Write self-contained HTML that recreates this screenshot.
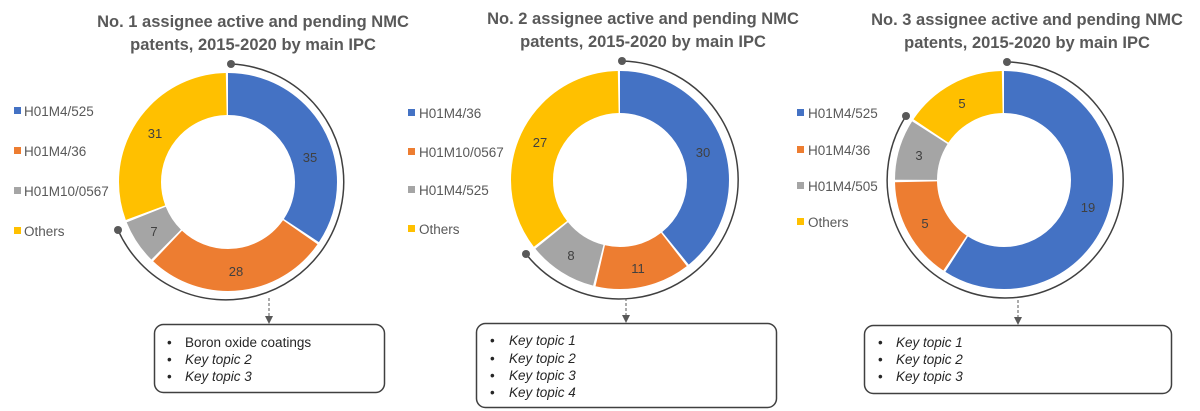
<!DOCTYPE html>
<html><head><meta charset="utf-8"><style>
html,body{margin:0;padding:0;background:#fff;}
svg{display:block;font-family:"Liberation Sans",sans-serif;}
.t{font-weight:bold;font-size:16.5px;fill:#595959;text-anchor:middle;}
.lg{font-size:13.5px;fill:#595959;}
.v{font-size:13px;fill:#404040;text-anchor:middle;}
.b{font-size:13.5px;fill:#262626;}
.i{font-style:italic;}
</style></head><body>
<svg width="1200" height="411" viewBox="0 0 1200 411">
<defs><marker id="ah" markerWidth="8" markerHeight="8" refX="4" refY="4" orient="auto"><path d="M0,0 L8,4 L0,8 z" fill="#595959"/></marker></defs>

<!-- Chart 1 -->
<text class="t" x="253" y="27">No. 1 assignee active and pending NMC</text>
<text class="t" x="253" y="50">patents, 2015-2020 by main IPC</text>
<g transform="rotate(-90 228 182)" fill="none" stroke-width="42">
<circle cx="228" cy="182" r="88" stroke="#4472C4" stroke-dasharray="189.6 600" stroke-dashoffset="0"/>
<circle cx="228" cy="182" r="88" stroke="#ED7D31" stroke-dasharray="151.3 600" stroke-dashoffset="-191.6"/>
<circle cx="228" cy="182" r="88" stroke="#A5A5A5" stroke-dasharray="36.3 600" stroke-dashoffset="-344.9"/>
<circle cx="228" cy="182" r="88" stroke="#FFC000" stroke-dasharray="167.7 600" stroke-dashoffset="-383.2"/>
</g>
<text class="v" x="310" y="162">35</text><text class="v" x="236" y="276">28</text><text class="v" x="154" y="236">7</text><text class="v" x="155" y="138">31</text>
<path d="M231,64 A118,118 0 1 1 118,230" fill="none" stroke="#404040" stroke-width="1.5"/>
<circle cx="231" cy="64" r="4" fill="#595959"/><circle cx="118" cy="230" r="4" fill="#595959"/>
<line x1="269" y1="298" x2="269" y2="320" stroke="#595959" stroke-dasharray="3 2" marker-end="url(#ah)"/>
<rect x="14" y="107" width="7" height="7" fill="#4472C4"/><text class="lg" x="24" y="116">H01M4/525</text>
<rect x="14" y="147" width="7" height="7" fill="#ED7D31"/><text class="lg" x="24" y="156">H01M4/36</text>
<rect x="14" y="187" width="7" height="7" fill="#A5A5A5"/><text class="lg" x="24" y="196">H01M10/0567</text>
<rect x="14" y="227" width="7" height="7" fill="#FFC000"/><text class="lg" x="24" y="236">Others</text>
<rect x="154.5" y="324.5" width="230" height="68" rx="9" fill="#fff" stroke="#404040" stroke-width="1.5"/>
<text class="b" x="167" y="347">•</text><text class="b" x="185" y="347">Boron oxide coatings</text>
<text class="b" x="167" y="364">•</text><text class="b i" x="185" y="364">Key topic 2</text>
<text class="b" x="167" y="381">•</text><text class="b i" x="185" y="381">Key topic 3</text>

<!-- Chart 2 -->
<text class="t" x="643" y="24">No. 2 assignee active and pending NMC</text>
<text class="t" x="643" y="47">patents, 2015-2020 by main IPC</text>
<g transform="rotate(-90 620 180)" fill="none" stroke-width="42">
<circle cx="620" cy="180" r="88" stroke="#4472C4" stroke-dasharray="216.3 600" stroke-dashoffset="0"/>
<circle cx="620" cy="180" r="88" stroke="#ED7D31" stroke-dasharray="78.0 600" stroke-dashoffset="-218.3"/>
<circle cx="620" cy="180" r="88" stroke="#A5A5A5" stroke-dasharray="56.2 600" stroke-dashoffset="-298.3"/>
<circle cx="620" cy="180" r="88" stroke="#FFC000" stroke-dasharray="194.4 600" stroke-dashoffset="-356.5"/>
</g>
<text class="v" x="703" y="157">30</text><text class="v" x="638" y="273">11</text><text class="v" x="571" y="260">8</text><text class="v" x="540" y="147">27</text>
<path d="M622,61 A119,119 0 1 1 526,254" fill="none" stroke="#404040" stroke-width="1.5"/>
<circle cx="622" cy="61" r="4" fill="#595959"/><circle cx="526" cy="254" r="4" fill="#595959"/>
<line x1="626" y1="298" x2="626" y2="319" stroke="#595959" stroke-dasharray="3 2" marker-end="url(#ah)"/>
<rect x="408" y="109" width="7" height="7" fill="#4472C4"/><text class="lg" x="419" y="118">H01M4/36</text>
<rect x="408" y="148" width="7" height="7" fill="#ED7D31"/><text class="lg" x="419" y="157">H01M10/0567</text>
<rect x="408" y="186" width="7" height="7" fill="#A5A5A5"/><text class="lg" x="419" y="195">H01M4/525</text>
<rect x="408" y="225" width="7" height="7" fill="#FFC000"/><text class="lg" x="419" y="234">Others</text>
<rect x="476.5" y="323.5" width="300" height="84" rx="9" fill="#fff" stroke="#404040" stroke-width="1.5"/>
<text class="b" x="490" y="345">•</text><text class="b i" x="509" y="345">Key topic 1</text>
<text class="b" x="490" y="363">•</text><text class="b i" x="509" y="363">Key topic 2</text>
<text class="b" x="490" y="380">•</text><text class="b i" x="509" y="380">Key topic 3</text>
<text class="b" x="490" y="397">•</text><text class="b i" x="509" y="397">Key topic 4</text>

<!-- Chart 3 -->
<text class="t" x="1027" y="25">No. 3 assignee active and pending NMC</text>
<text class="t" x="1027" y="48">patents, 2015-2020 by main IPC</text>
<g transform="rotate(-90 1004 180)" fill="none" stroke-width="42">
<circle cx="1004" cy="180" r="88" stroke="#4472C4" stroke-dasharray="326.3 600" stroke-dashoffset="0"/>
<circle cx="1004" cy="180" r="88" stroke="#ED7D31" stroke-dasharray="84.4 600" stroke-dashoffset="-328.3"/>
<circle cx="1004" cy="180" r="88" stroke="#A5A5A5" stroke-dasharray="49.8 600" stroke-dashoffset="-414.7"/>
<circle cx="1004" cy="180" r="88" stroke="#FFC000" stroke-dasharray="84.4 600" stroke-dashoffset="-466.5"/>
</g>
<text class="v" x="962" y="108">5</text><text class="v" x="919" y="160">3</text><text class="v" x="925" y="228">5</text><text class="v" x="1088" y="212">19</text>
<path d="M1007,62 A118,118 0 1 1 906,116" fill="none" stroke="#404040" stroke-width="1.5"/>
<circle cx="1007" cy="62" r="4" fill="#595959"/><circle cx="906" cy="116" r="4" fill="#595959"/>
<line x1="1018" y1="300" x2="1018" y2="321" stroke="#595959" stroke-dasharray="3 2" marker-end="url(#ah)"/>
<rect x="797" y="109" width="7" height="7" fill="#4472C4"/><text class="lg" x="808" y="118">H01M4/525</text>
<rect x="797" y="146" width="7" height="7" fill="#ED7D31"/><text class="lg" x="808" y="155">H01M4/36</text>
<rect x="797" y="182" width="7" height="7" fill="#A5A5A5"/><text class="lg" x="808" y="191">H01M4/505</text>
<rect x="797" y="218" width="7" height="7" fill="#FFC000"/><text class="lg" x="808" y="227">Others</text>
<rect x="864.5" y="325.5" width="307" height="68" rx="9" fill="#fff" stroke="#404040" stroke-width="1.5"/>
<text class="b" x="878" y="347">•</text><text class="b i" x="896" y="347">Key topic 1</text>
<text class="b" x="878" y="364">•</text><text class="b i" x="896" y="364">Key topic 2</text>
<text class="b" x="878" y="381">•</text><text class="b i" x="896" y="381">Key topic 3</text>
</svg>
</body></html>
